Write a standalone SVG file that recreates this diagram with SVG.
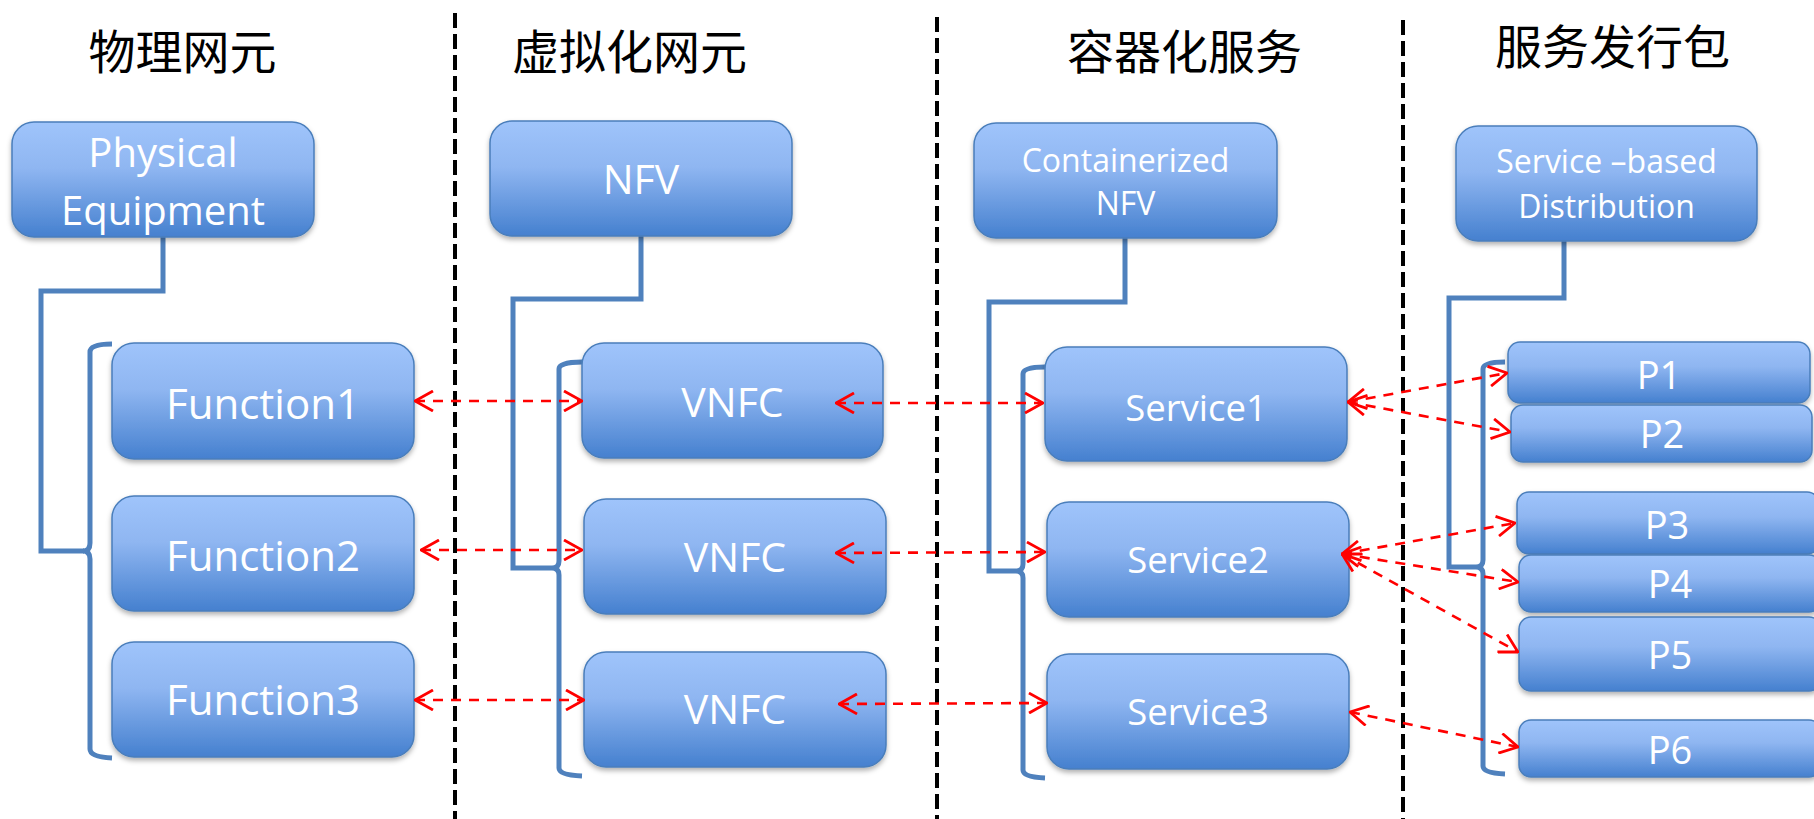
<svg xmlns="http://www.w3.org/2000/svg" width="1814" height="819" viewBox="0 0 1814 819">
<style>
.box{fill:url(#g);stroke:#4a7ebb;stroke-width:1.5;filter:url(#sh)}
.lbl{font-family:"Open Sans","Liberation Sans",sans-serif;fill:#fff;text-anchor:middle}
.title{font-family:"Noto Sans CJK SC",sans-serif;font-size:47px;fill:#000;text-anchor:middle}
.sep{stroke:#000;stroke-width:4;stroke-dasharray:15 6;fill:none}
.tree{fill:none;stroke:#4f81bd;stroke-width:5;stroke-linejoin:miter}
.arr{stroke:#f00;stroke-width:2.6;stroke-dasharray:10 8;fill:none;marker-start:url(#ah);marker-end:url(#ah)}
</style>
<defs>
<linearGradient id="g" x1="0" y1="0" x2="0" y2="1">
<stop offset="0" stop-color="#9fc4fb"/>
<stop offset="0.4" stop-color="#8fb6f1"/>
<stop offset="1" stop-color="#4580cf"/>
</linearGradient>
<filter id="sh" x="-10%" y="-10%" width="120%" height="130%">
<feDropShadow dx="0" dy="3" stdDeviation="2.5" flood-color="#000" flood-opacity="0.3"/>
</filter>
<marker id="ah" viewBox="0 0 20 22" refX="19" refY="11" markerWidth="20" markerHeight="22" markerUnits="userSpaceOnUse" orient="auto-start-reverse">
<path d="M1,1 L19,11 L1,21" fill="none" stroke="#f00" stroke-width="2.8"/>
</marker>
</defs>
<rect width="1814" height="819" fill="#fff"/>

<g id="separators">
<line class="sep" x1="455" y1="13" x2="455" y2="819"/>
<line class="sep" x1="937" y1="17" x2="937" y2="819"/>
<line class="sep" x1="1403" y1="20" x2="1403" y2="819"/>
</g>

<g id="titles">
<text class="title" x="182.5" y="69">物理网元</text>
<text class="title" x="629.5" y="69">虚拟化网元</text>
<text class="title" x="1184.5" y="69">容器化服务</text>
<text class="title" x="1612.5" y="64">服务发行包</text>
</g>

<g id="tree-connectors">
<path class="tree" d="M163,237 V291 H41 V551 H84"/>
<path class="tree" d="M112,344 Q90,344 90,352 V543 Q90,551 83,551 Q90,551 90,559 V749 Q90,757 112,758"/>
<path class="tree" d="M641,236 V299 H513 V568 H552"/>
<path class="tree" d="M582,362 Q559,362 559,369 V561 Q559,568 552,568 Q559,568 559,575 V768 Q559,775 582,776"/>
<path class="tree" d="M1125,238 V302 H989 V571 H1016"/>
<path class="tree" d="M1045,367 Q1023,367 1023,374 V564 Q1023,571 1016,571 Q1023,571 1023,578 V770 Q1023,777 1045,778"/>
<path class="tree" d="M1564,241 V298 H1449 V567 H1476"/>
<path class="tree" d="M1505,362 Q1483,362 1483,369 V560 Q1483,567 1476,567 Q1483,567 1483,574 V766 Q1483,773 1505,774"/>
</g>

<g id="physical-equipment">
<rect class="box" x="12" y="122" width="302" height="115" rx="22"/>
<text class="lbl" x="163" y="167" font-size="40">Physical</text>
<text class="lbl" x="163" y="225" font-size="40">Equipment</text>
</g>
<g id="function1">
<rect class="box" x="112" y="343" width="302" height="116" rx="22"/>
<text class="lbl" x="263" y="419" font-size="42">Function1</text>
</g>
<g id="function2">
<rect class="box" x="112" y="496" width="302" height="115" rx="22"/>
<text class="lbl" x="263" y="571" font-size="42">Function2</text>
</g>
<g id="function3">
<rect class="box" x="112" y="642" width="302" height="115" rx="22"/>
<text class="lbl" x="263" y="715" font-size="42">Function3</text>
</g>

<g id="nfv">
<rect class="box" x="490" y="121" width="302" height="115" rx="22"/>
<text class="lbl" x="641" y="194" font-size="41">NFV</text>
</g>
<g id="vnfc1">
<rect class="box" x="582" y="343" width="301" height="115" rx="22"/>
<text class="lbl" x="732.5" y="417" font-size="41">VNFC</text>
</g>
<g id="vnfc2">
<rect class="box" x="584" y="499" width="302" height="115" rx="22"/>
<text class="lbl" x="735" y="572" font-size="41">VNFC</text>
</g>
<g id="vnfc3">
<rect class="box" x="584" y="652" width="302" height="115" rx="22"/>
<text class="lbl" x="735" y="724" font-size="41">VNFC</text>
</g>

<g id="containerized-nfv">
<rect class="box" x="974" y="123" width="303" height="115" rx="22"/>
<text class="lbl" x="1125.5" y="172" font-size="32">Containerized</text>
<text class="lbl" x="1125.5" y="215" font-size="32">NFV</text>
</g>
<g id="service1">
<rect class="box" x="1045" y="347" width="302" height="114" rx="22"/>
<text class="lbl" x="1196" y="421" font-size="36.5">Service1</text>
</g>
<g id="service2">
<rect class="box" x="1047" y="502" width="302" height="115" rx="22"/>
<text class="lbl" x="1198" y="573" font-size="36.5">Service2</text>
</g>
<g id="service3">
<rect class="box" x="1047" y="654" width="302" height="115" rx="22"/>
<text class="lbl" x="1198" y="725" font-size="36.5">Service3</text>
</g>

<g id="service-based-distribution">
<rect class="box" x="1456" y="126" width="301" height="115" rx="22"/>
<text class="lbl" x="1606.5" y="173" font-size="32">Service –based</text>
<text class="lbl" x="1606.5" y="218" font-size="32">Distribution</text>
</g>
<g id="p1">
<rect class="box" x="1508" y="342" width="302" height="61" rx="12"/>
<text class="lbl" x="1659" y="389" font-size="38">P1</text>
</g>
<g id="p2">
<rect class="box" x="1511" y="405" width="301" height="57" rx="12"/>
<text class="lbl" x="1662" y="448" font-size="38">P2</text>
</g>
<g id="p3">
<rect class="box" x="1517" y="492" width="302" height="62" rx="12"/>
<text class="lbl" x="1667" y="539" font-size="38">P3</text>
</g>
<g id="p4">
<rect class="box" x="1519" y="555" width="302" height="57" rx="12"/>
<text class="lbl" x="1670" y="598" font-size="38">P4</text>
</g>
<g id="p5">
<rect class="box" x="1519" y="617" width="302" height="74" rx="12"/>
<text class="lbl" x="1670" y="669" font-size="38">P5</text>
</g>
<g id="p6">
<rect class="box" x="1519" y="720" width="302" height="57" rx="12"/>
<text class="lbl" x="1670" y="764" font-size="38">P6</text>
</g>

<g id="connectors">
<line class="arr" x1="415" y1="401" x2="582" y2="401"/>
<line class="arr" x1="421" y1="550" x2="582" y2="550"/>
<line class="arr" x1="415" y1="700" x2="584" y2="700"/>
<line class="arr" x1="836" y1="403" x2="1043" y2="403"/>
<line class="arr" x1="836" y1="553" x2="1045" y2="552"/>
<line class="arr" x1="839" y1="704" x2="1047" y2="703"/>
<line class="arr" x1="1348" y1="402" x2="1507" y2="373"/>
<line class="arr" x1="1348" y1="402" x2="1510" y2="432"/>
<line class="arr" x1="1342" y1="554" x2="1515" y2="523"/>
<line class="arr" x1="1342" y1="554" x2="1518" y2="582"/>
<line class="arr" x1="1342" y1="554" x2="1518" y2="652"/>
<line class="arr" x1="1350" y1="712" x2="1518" y2="747"/>
</g>
</svg>
